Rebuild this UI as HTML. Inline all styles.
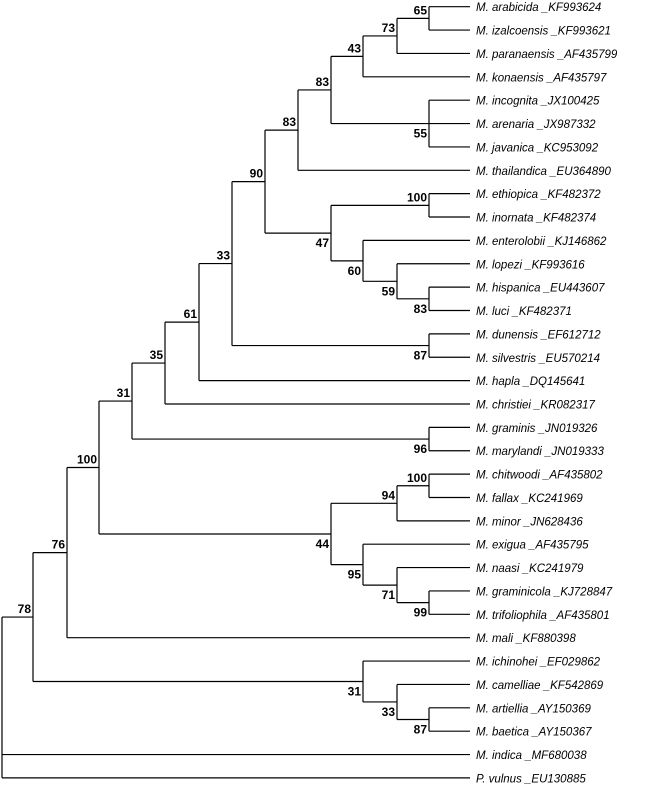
<!DOCTYPE html>
<html><head><meta charset="utf-8"><style>
html,body{margin:0;padding:0;background:#fff;width:652px;height:785px;overflow:hidden}
svg text{font-family:"Liberation Sans",Arial,sans-serif}
.l{font-size:11.5px;font-style:italic}
.b{font-size:12px;font-weight:bold}
</style></head><body>
<svg id="s" width="652" height="785" xmlns="http://www.w3.org/2000/svg"></svg>
<script>
const names=["M. arabicida _KF993624","M. izalcoensis _KF993621","M. paranaensis _AF435799","M. konaensis _AF435797","M. incognita _JX100425","M. arenaria _JX987332","M. javanica _KC953092","M. thailandica _EU364890","M. ethiopica _KF482372","M. inornata _KF482374","M. enterolobii _KJ146862","M. lopezi _KF993616","M. hispanica _EU443607","M. luci _KF482371","M. dunensis _EF612712","M. silvestris _EU570214","M. hapla _DQ145641","M. christiei _KR082317","M. graminis _JN019326","M. marylandi _JN019333","M. chitwoodi _AF435802","M. fallax _KC241969","M. minor _JN628436","M. exigua _AF435795","M. naasi _KC241979","M. graminicola _KJ728847","M. trifoliophila _AF435801","M. mali _KF880398","M. ichinohei _EF029862","M. camelliae _KF542869","M. artiellia _AY150369","M. baetica _AY150367","M. indica _MF680038","P. vulnus _EU130885"];
const X=[2,33,67,99,132,165,199,232,265,298,331,363,397,429];
function N(d,lab,...c){return {d,lab,c};}
const L=i=>({leaf:i});
const tree=N(0,"",
 N(1,"78",
  N(2,"76",
   N(3,"100",
    N(4,"31",
     N(5,"35",
      N(6,"61",
       N(7,"33",
        N(8,"90",
         N(9,"83",
          N(10,"83",
           N(11,"43",
            N(12,"73",N(13,"65",L(0),L(1)),L(2)),
            L(3)),
           N(13,"55",L(4),L(5),L(6))),
          L(7)),
         N(10,"47",
          N(13,"100",L(8),L(9)),
          N(11,"60",L(10),N(12,"59",L(11),N(13,"83",L(12),L(13)))))),
        N(13,"87",L(14),L(15))),
       L(16)),
      L(17)),
     N(13,"96",L(18),L(19))),
    N(10,"44",
     N(12,"94",N(13,"100",L(20),L(21)),L(22)),
     N(11,"95",L(23),N(12,"71",L(24),N(13,"99",L(25),L(26)))))),
   L(27)),
  N(11,"31",L(28),N(12,"33",L(29),N(13,"87",L(30),L(31))))),
 L(32),L(33));
const y0=6.7,dy=23.37,XE=470;
let out="";
function ln(a,b,c,d){out+=`<line x1="${a}" y1="${b}" x2="${c}" y2="${d}" stroke="#000" stroke-width="1.2"/>`;}
function lay(n){
 if(n.leaf!==undefined){n.y=y0+n.leaf*dy;n.x=XE;return;}
 n.x=X[n.d];n.c.forEach(lay);
 n.y=(n.c[0].y+n.c[n.c.length-1].y)/2;
}
function draw(n,first){
 if(n.leaf!==undefined){out+=`<text class="l" x="476" y="${n.y+4.5}">${names[n.leaf]}</text>`;return;}
 ln(n.x,n.c[0].y,n.x,n.c[n.c.length-1].y);
 n.c.forEach((c,i)=>{ln(n.x,c.y,c.x,c.y);draw(c,i==0);});
 if(n.lab){out+=`<text class="b" text-anchor="end" x="${n.x-2}" y="${first?n.y-4:n.y+14}">${n.lab}</text>`;}
}
lay(tree);draw(tree,true);
document.getElementById("s").innerHTML=out;
</script>
</body></html>
